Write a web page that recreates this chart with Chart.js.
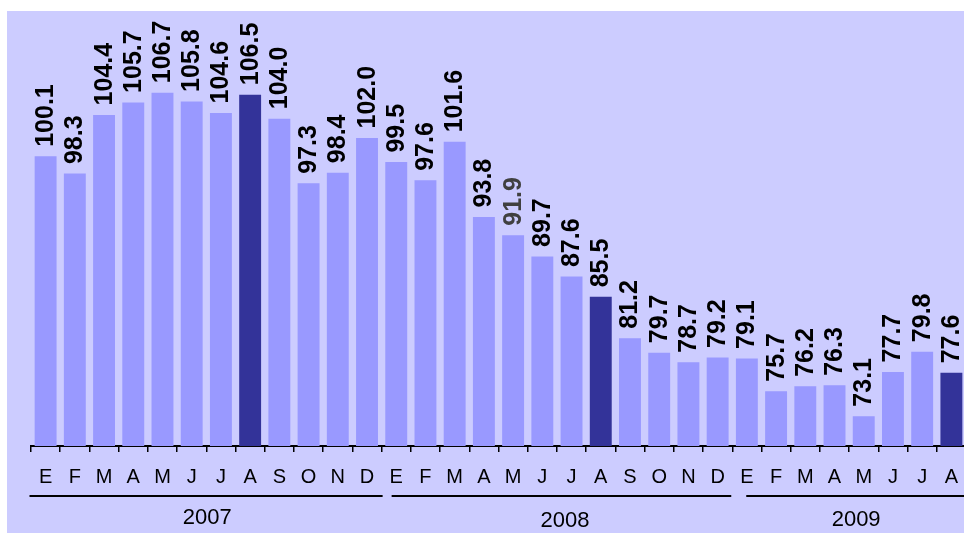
<!DOCTYPE html>
<html>
<head>
<meta charset="utf-8">
<script src="https://cdn.jsdelivr.net/npm/chart.js@4"></script>
<style>
  html, body { margin: 0; padding: 0; background: #ffffff; overflow: hidden; }
  #wrap { width: 972px; height: 534px; position: relative; }
</style>
</head>
<body>
<div id="wrap"><canvas id="c" width="972" height="534"></canvas></div>
<script>
// ---- data ----
const monthInitials = ['E','F','M','A','M','J','J','A','S','O','N','D'];
const years = ['2007', '2008', '2009'];
const values2007 = [100.1, 98.3, 104.4, 105.7, 106.7, 105.8, 104.6, 106.5, 104.0, 97.3, 98.4, 102.0];
const values2008 = [99.5, 97.6, 101.6, 93.8, 91.9, 89.7, 87.6, 85.5, 81.2, 79.7, 78.7, 79.2];
const values2009 = [79.1, 75.7, 76.2, 76.3, 73.1, 77.7, 79.8, 77.6];
const highlightMonthIndex = 7; // August bars are emphasised
const greyLabelValue = 91.9;   // this label is printed in grey in the source

// ---- build ----
const seriesByYear = [values2007, values2008, values2009];
const categories = [];
const values = [];
const colors = [];
const labelColors = [];
seriesByYear.forEach((vals) => {
  vals.forEach((v, mi) => {
    categories.push(monthInitials[mi]);
    values.push(v);
    colors.push(mi === highlightMonthIndex ? '#333399' : '#9999FF');
    labelColors.push(v === greyLabelValue ? '#404040' : '#000000');
  });
});

const bgPlugin = {
  id: 'bg',
  beforeDraw(chart) {
    const ctx = chart.ctx;
    ctx.save();
    ctx.fillStyle = '#CCCCFF';
    ctx.fillRect(7, 11, chart.width - 7, 522);
    ctx.restore();
  }
};

const barLabelPlugin = {
  id: 'barLabels',
  afterDatasetsDraw(chart) {
    const ctx = chart.ctx;
    const meta = chart.getDatasetMeta(0);
    ctx.save();
    ctx.font = 'bold 25px "Liberation Sans", Arial, sans-serif';
    ctx.textAlign = 'left';
    ctx.textBaseline = 'alphabetic';
    meta.data.forEach((bar, i) => {
      const v = chart.data.datasets[0].data[i];
      ctx.save();
      ctx.translate(bar.x + 7.5, bar.y - 9.5);
      ctx.rotate(-Math.PI / 2);
      ctx.fillStyle = labelColors[i];
      ctx.fillText(v.toFixed(1), 0, 0);
      ctx.restore();
    });
    ctx.restore();
  }
};

const yearPlugin = {
  id: 'years',
  afterDraw(chart) {
    const ctx = chart.ctx;
    const xs = chart.scales.x;
    const half = (xs.getPixelForValue(1) - xs.getPixelForValue(0)) / 2;
    const lineStartOff = [-1.5, 10, 14];
    const lineEndOff = [1, -1, 20];
    const textOff = [1, 8, 7];
    const textY = [518, 521, 520];
    ctx.save();
    ctx.strokeStyle = '#000000';
    ctx.lineWidth = 2;
    ctx.fillStyle = '#000000';
    ctx.font = '22px "Liberation Sans", Arial, sans-serif';
    ctx.textAlign = 'center';
    ctx.textBaseline = 'middle';
    let start = 0;
    seriesByYear.forEach((vals, yi) => {
      const end = start + vals.length - 1;
      const x0 = xs.getPixelForValue(start) - half;
      const x1 = xs.getPixelForValue(end) + half;
      ctx.beginPath();
      ctx.moveTo(x0 + lineStartOff[yi], 496);
      ctx.lineTo(x1 + lineEndOff[yi], 496);
      ctx.stroke();
      ctx.fillText(years[yi], (x0 + x1) / 2 + textOff[yi], textY[yi]);
      start = end + 1;
    });
    ctx.restore();
  }
};

new Chart(document.getElementById('c'), {
  type: 'bar',
  data: {
    labels: categories,
    datasets: [{
      data: values,
      backgroundColor: colors,
      borderWidth: 0,
      categoryPercentage: 1.0,
      barPercentage: 0.75
    }]
  },
  options: {
    responsive: false,
    animation: false,
    devicePixelRatio: 1,
    layout: { padding: { top: 61, left: 31, right: 6, bottom: 32 } },
    plugins: { legend: { display: false }, tooltip: { enabled: false }, title: { display: false } },
    scales: {
      x: {
        offset: true,
        grid: {
          display: true,
          offset: true,
          drawOnChartArea: false,
          drawTicks: true,
          tickLength: 6,
          color: '#000000',
          lineWidth: 1.5
        },
        border: { display: true, color: '#000000', width: 2 },
        ticks: {
          autoSkip: false,
          maxRotation: 0,
          minRotation: 0,
          padding: 13,
          color: '#000000',
          font: { family: '"Liberation Sans", Arial, sans-serif', size: 20 }
        }
      },
      y: {
        display: false,
        min: 70,
        max: 110
      }
    }
  },
  plugins: [bgPlugin, barLabelPlugin, yearPlugin]
});
</script>
</body>
</html>
